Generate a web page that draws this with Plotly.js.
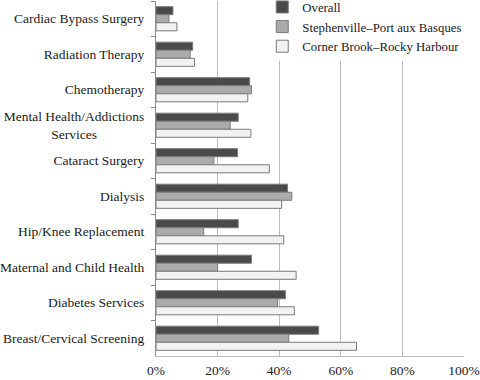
<!DOCTYPE html>
<html>
<head>
<meta charset="utf-8">
<script src="https://cdn.plot.ly/plotly-3.0.1.min.js"></script>
<style>html,body{margin:0;padding:0;background:#fff;}#chart{width:480px;height:380px;}</style>
</head>
<body>
<div id="chart"></div>
<script>
const NB = '\u00a0';
const categories = [
  'Cardiac Bypass Surgery',
  'Radiation Therapy',
  'Chemotherapy',
  'Mental Health/Addictions<br>Services' + NB.repeat(14),
  'Cataract Surgery',
  'Dialysis',
  'Hip/Knee Replacement',
  'Maternal and Child Health',
  'Diabetes Services',
  'Breast/Cervical Screening'
];
const seriesNames = ['Overall', 'Stephenville\u2013Port aux Basques', 'Corner Brook\u2013Rocky Harbour'];
const overall      = [5.5, 11.9, 30.4, 26.7, 26.5, 42.7, 26.7, 31.0, 42.0, 52.8];
const stephenville = [4.2, 11.1, 31.0, 24.1, 18.8, 44.1, 15.5, 20.0, 39.5, 43.1];
const cornerBrook  = [6.8, 12.5, 29.8, 30.8, 36.8, 40.8, 41.5, 45.5, 44.9, 65.1];
const xTicks = [0, 20, 40, 60, 80, 100];

const fills = ['#4a4a4a', '#ababab', '#f2f2f2'];
const values = [overall, stephenville, cornerBrook];

const traces = values.map((v, i) => ({
  type: 'bar',
  orientation: 'h',
  name: seriesNames[i],
  x: v,
  y: categories,
  marker: {color: fills[i], line: {color: '#7a7a7a', width: 1}},
  hoverinfo: 'skip'
}));

const FONT = '"Liberation Serif", "Times New Roman", Times, serif';

const layout = {
  width: 480,
  height: 380,
  margin: {l: 156, r: 16, t: 1, b: 24, pad: 0, autoexpand: false},
  paper_bgcolor: '#fff',
  plot_bgcolor: '#fff',
  font: {family: FONT, size: 13.5, color: '#1a1a1a'},
  barmode: 'group',
  bargap: 0.32,
  bargroupgap: 0,
  showlegend: true,
  legend: {
    x: 0.345, xanchor: 'left', y: 1.025, yanchor: 'top',
    bgcolor: '#fff', borderwidth: 0,
    font: {family: FONT, size: 12.8, color: '#1a1a1a'},
    traceorder: 'normal'
  },
  xaxis: {
    range: [0, 100],
    tickvals: xTicks,
    ticktext: xTicks.map(t => t + '%'),
    showgrid: true,
    gridcolor: '#bcbcbc',
    gridwidth: 1,
    zeroline: false,
    showline: true,
    linecolor: '#bcbcbc',
    linewidth: 1,
    ticks: '',
    ticklabelstandoff: 2,
    fixedrange: true
  },
  yaxis: {
    type: 'category',
    autorange: 'reversed',
    tickson: 'boundaries',
    ticks: 'outside',
    ticklen: 4,
    tickcolor: '#8a8a8a',
    showline: true,
    linecolor: '#8a8a8a',
    linewidth: 1,
    showgrid: false,
    zeroline: false,
    ticklabelstandoff: 8,
    fixedrange: true
  }
};

Plotly.newPlot('chart', traces, layout, {displayModeBar: false, staticPlot: true});
</script>
</body>
</html>
